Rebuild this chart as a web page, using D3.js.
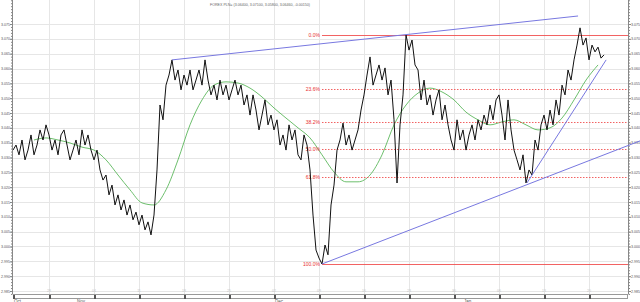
<!DOCTYPE html>
<html><head><meta charset="utf-8">
<script src="https://cdn.jsdelivr.net/npm/d3@7/dist/d3.min.js"></script>
<style>body{margin:0;background:#fff}svg{display:block}text{font-family:"Liberation Sans",Arial,sans-serif}</style>
</head><body><div id="chart"></div>
<script>
// ---- data ----
const titleText = "FOREX PLN= (3.06400, 3.07100, 3.05800, 3.06460, -0.00150)";
// price every 1/3 trading day starting at day 0
const priceStep = 1/3;
const priceValues = [
3.0325,3.0342,3.0309,3.0359,3.0292,3.0325,3.0376,3.0309,3.0342,3.0393,3.0359,3.0410,3.0376,3.0325,3.0359,3.0309,3.0376,3.0393,3.0342,3.0292,3.0325,3.0359,3.0309,3.0393,3.0342,3.0376,3.0325,3.0292,3.0325,3.0258,
3.0224,3.0241,3.0174,3.0207,3.0140,3.0174,3.0123,3.0157,3.0106,3.0140,3.0090,3.0116,3.0073,3.0106,3.0056,3.0083,3.0039,3.0106,
3.0258,3.0477,3.0427,3.0544,3.0578,3.0629,
3.0561,3.0595,3.0528,3.0578,3.0544,3.0595,3.0528,3.0561,3.0595,3.0544,3.0629,3.0561,3.0511,3.0544,3.0494,3.0561,3.0511,3.0544,3.0494,3.0528,3.0561,3.0511,3.0544,3.0477,3.0511,3.0443,3.0511,3.0460,3.0393,
3.0443,3.0494,3.0410,3.0443,3.0393,3.0427,3.0342,3.0376,3.0325,3.0410,3.0359,3.0393,3.0309,3.0292,3.0376,3.0342,3.0258,
3.0106,2.9988,2.9961,2.9941,3.0005,2.9972,3.0140,3.0207,
3.0325,3.0359,3.0416,3.0342,3.0376,3.0325,3.0359,3.0393,3.0460,3.0511,3.0578,3.0639,3.0544,3.0578,3.0612,3.0561,3.0602,3.0511,3.0561,3.0427,3.0214,3.0410,
3.0511,3.0713,3.0662,3.0696,3.0612,3.0595,3.0494,3.0561,3.0477,3.0511,3.0443,3.0494,3.0528,3.0427,3.0477,3.0410,3.0359,3.0325,3.0427,3.0359,3.0393,3.0325,3.0376,
3.0410,3.0359,3.0427,3.0393,3.0443,3.0410,3.0477,3.0427,3.0494,3.0511,3.0443,3.0359,3.0494,3.0393,3.0325,3.0292,3.0258,3.0309,3.0214,3.0258,
3.0241,3.0359,3.0325,3.0410,3.0443,3.0393,3.0460,3.0410,3.0494,3.0443,3.0544,3.0511,3.0595,3.0561,3.0629,3.0679,3.0737,3.0679,3.0703,3.0629,3.0679,3.0656,3.0672,3.0635,3.0646
];
// moving average, every 4/3 trading day starting at day 7/3
const maStart = 7/3, maStep = 4/3;
const maValues = [
3.0359,3.0366,3.0359,3.0349,3.0335,3.0325,3.0292,3.0241,3.0191,3.0147,3.0140,3.0191,3.0292,3.0410,3.0494,3.0544,3.0555,3.0551,3.0534,3.0504,3.0467,3.0433,3.0400,3.0366,
3.0309,3.0251,3.0218,3.0218,3.0241,3.0309,3.0410,3.0477,3.0517,3.0534,3.0521,3.0494,3.0453,3.0427,3.0410,3.0420,3.0427,3.0410,3.0393,3.0400,3.0433,3.0494,3.0561,3.0612
];
const yTicks = [3.075,3.070,3.065,3.060,3.055,3.050,3.045,3.040,3.035,3.030,3.025,3.020,3.015,3.010,3.005,3.000,2.995,2.990,2.985];
const weekDays = [4,9,14,19,24,29,34,39,44,49,54,59,64];
const weekLabels = ["28","04","11","18","25","02","09","16","23","30","06","13","20"];
const monthDays = [0,7,29,50];
const monthLabels = ["Oct","Nov","Dec","Jan"];
const fibHigh = 3.0713, fibLow = 2.9941, fibStartDay = 34.33;
const fibLevels = [0, 23.6, 38.2, 50.0, 61.8, 100.0];
const trendLines = [
  {from:[17.67,3.0629], to:[62.78,3.0777]},
  {from:[34.33,2.9941], to:[69.67,3.0356]},
  {from:[57.1,3.0214],  to:[65.9,3.0629]}
];

// ---- chart ----
const W=640,H=302, X0=13, X1=628, YB=294;
const svg=d3.select("#chart").append("svg").attr("width",W).attr("height",H);
const x=d3.scaleLinear().domain([0,68.33]).range([X0,X1]);
const y=d3.scaleLinear().domain([2.985,3.075]).range([291,24]);

// grid
svg.append("g").selectAll("line").data(yTicks).join("line")
  .attr("x1",X0).attr("x2",X1).attr("y1",d=>Math.round(y(d))+0.5).attr("y2",d=>Math.round(y(d))+0.5)
  .attr("stroke","#e6e6e6");
svg.append("g").selectAll("line").data(weekDays).join("line")
  .attr("x1",d=>Math.round(x(d))+0.5).attr("x2",d=>Math.round(x(d))+0.5).attr("y1",0).attr("y2",YB)
  .attr("stroke","#e6e6e6");
svg.append("g").selectAll("text").data(weekDays).join("text")
  .attr("x",d=>x(d)).attr("y",292).attr("text-anchor","middle").attr("font-size",3.5).attr("fill","#c4c4c4")
  .text((d,i)=>weekLabels[i]);

// title
svg.append("text").attr("x",260).attr("y",5.5).attr("text-anchor","middle").attr("font-size",3.6)
  .attr("fill","#666").text(titleText);

// axes
const minor=d3.range(2.984,3.0835,0.001);
function axisSide(gen, tx, left){
  const g=svg.append("g").attr("transform",`translate(${tx},0)`);
  g.call(gen(y).tickValues(minor).tickSize(1.5).tickFormat(""));
  g.select(".domain").remove();
  const g2=svg.append("g").attr("transform",`translate(${tx},0)`);
  g2.call(gen(y).tickValues(yTicks).tickSize(2.5).tickFormat(d3.format(".3f")));
  g2.select(".domain").remove();
  g2.selectAll("text").attr("font-size",3.6).attr("fill","#555")
    .attr("font-family","Liberation Sans, Arial, sans-serif")
    .attr("x", left ? -2.5 : 2.5);
  [g,g2].forEach(gg=>gg.selectAll("line").attr("stroke","#888"));
  svg.append("line").attr("x1",tx).attr("x2",tx).attr("y1",0).attr("y2",YB).attr("stroke","#888");
}
axisSide(d3.axisLeft,12.5,true);
axisSide(d3.axisRight,628.5,false);

// MA line
svg.append("clipPath").attr("id","c").append("rect").attr("x",X0).attr("y",0).attr("width",X1-X0).attr("height",YB);
svg.append("path").attr("clip-path","url(#c)")
  .datum(maValues).attr("fill","none").attr("stroke","#5cb85c").attr("stroke-width",0.9)
  .attr("d",d3.line().x((d,i)=>x(maStart+i*maStep)).y(d=>y(d)).curve(d3.curveMonotoneX));

// fib levels
const fibG=svg.append("g");
fibLevels.forEach(p=>{
  const v=fibHigh-(fibHigh-fibLow)*p/100;
  const yy=Math.round(y(v))+0.5;
  const solid=(p===0||p===100);
  fibG.append("line").attr("x1",x(fibStartDay)).attr("x2",X1).attr("y1",yy).attr("y2",yy)
    .attr("stroke","#f04848").attr("stroke-width",1).attr("stroke-opacity",0.85)
    .attr("stroke-dasharray", solid?null:"1.5,1.5");
  fibG.append("text").attr("x",x(fibStartDay)-2).attr("y",yy+1.8).attr("text-anchor","end")
    .attr("font-size",5).attr("fill","#e83030").text(p.toFixed(1)+"%");
});

// price
svg.append("path").attr("clip-path","url(#c)")
  .datum(priceValues).attr("fill","none").attr("stroke","#111").attr("stroke-width",1)
  .attr("d",d3.line().x((d,i)=>x(i*priceStep)).y(d=>y(d)));

// trend lines
svg.append("g").selectAll("line").data(trendLines).join("line")
  .attr("x1",d=>x(d.from[0])).attr("y1",d=>y(d.from[1])).attr("x2",d=>x(d.to[0])).attr("y2",d=>y(d.to[1]))
  .attr("stroke","#7878e0").attr("stroke-width",1);

// bottom strip
svg.append("rect").attr("x",X0+0.5).attr("y",YB+0.5).attr("width",X1-X0-1).attr("height",4)
  .attr("fill","#fff").attr("stroke","#999");
svg.append("g").selectAll("rect").data([0].concat(weekDays)).join("rect")
  .attr("x",d=>Math.round(x(d))).attr("y",YB+1).attr("width",2).attr("height",4).attr("fill","#555");
svg.append("g").selectAll("text").data(monthDays).join("text")
  .attr("x",d=>x(d)+1).attr("y",YB+8.5).attr("font-size",4.5).attr("fill","#555")
  .text((d,i)=>monthLabels[i]);
</script></body></html>
